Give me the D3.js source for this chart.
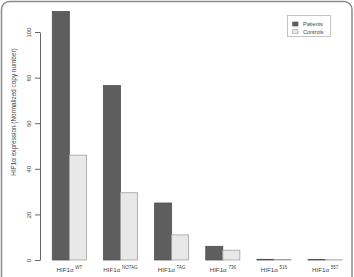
<!DOCTYPE html>
<html>
<head>
<meta charset="utf-8">
<script src="https://cdn.jsdelivr.net/npm/d3@7"></script>
<style>
  body { margin: 0; background: #fff; }
  text { font-family: "Liberation Sans", Arial, sans-serif; fill: #444; }
</style>
</head>
<body>
<div id="chart"></div>
<script>
// data
var categories = ["WT", "NOTAG", "TAG", "736", "516", "557"];
var series = ["Patients", "Controls"];
var patients = [109, 76.5, 25, 6, 0.3, 0.2];
var controls = [46, 29.5, 11, 4.3, 0.2, 0.1];
var yTicks = [0, 20, 40, 60, 80, 100];

var colors = { Patients: "#5e5e5e", Controls: "#e8e8e8" };
var strokes = { Patients: "#505050", Controls: "#a0a0a0" };

var W = 354, H = 277;
var svg = d3.select("#chart").append("svg")
    .attr("width", W)
    .attr("height", H);

// outer frame
svg.append("rect")
    .attr("x", 1.5).attr("y", 1.5)
    .attr("width", 350.5).attr("height", 320)
    .attr("rx", 8)
    .attr("fill", "none")
    .attr("stroke", "#8a8a8a")
    .attr("stroke-width", 1.5);

// scales
var y = d3.scaleLinear().domain([0, 100]).range([260, 32]);
var x0 = d3.scaleBand().domain(categories).range([52.3, 342.15])
    .paddingInner(1 / 3).paddingOuter(0);
var x1 = d3.scaleBand().domain(series).range([0, x0.bandwidth()]);

var rows = categories.map(function(c, i) {
  return { cat: c, vals: [ { s: "Patients", v: patients[i] }, { s: "Controls", v: controls[i] } ] };
});

// bars
var g = svg.selectAll("g.grp")
  .data(rows)
  .enter().append("g")
    .attr("class", "grp")
    .attr("transform", function(d) { return "translate(" + x0(d.cat) + ",0)"; });

g.selectAll("rect")
  .data(function(d) { return d.vals; })
  .enter().append("rect")
    .attr("x", function(d) { return x1(d.s); })
    .attr("y", function(d) { return y(d.v); })
    .attr("width", x1.bandwidth())
    .attr("height", function(d) { return y(0) - y(d.v); })
    .attr("fill", function(d) { return colors[d.s]; })
    .attr("stroke", function(d) { return strokes[d.s]; })
    .attr("stroke-width", 0.8);

// y axis
var ax = svg.append("g")
    .attr("transform", "translate(40,0)")
    .call(d3.axisLeft(y).tickValues(yTicks).tickSize(5).tickSizeOuter(0));
ax.select(".domain").attr("stroke", "#666");
ax.selectAll(".tick line").attr("stroke", "#666");
ax.selectAll(".tick text")
    .attr("x", 0).attr("y", -11)
    .attr("dy", "0.35em")
    .attr("text-anchor", "middle")
    .attr("transform", "rotate(-90)")
    .style("font-size", "6px")
    .style("fill", "#444")
    .style("font-family", "Liberation Sans, Arial, sans-serif");

// y title
svg.append("text")
    .attr("transform", "translate(14,112) rotate(-90)")
    .attr("text-anchor", "middle")
    .attr("dy", "0.35em")
    .style("font-size", "6.4px")
    .text("HIF1α expression (Normalized copy number)");

// x labels
var lab = svg.selectAll("text.xl")
  .data(categories)
  .enter().append("text")
    .attr("class", "xl")
    .attr("x", function(d) { return x0(d) + x0.bandwidth() / 2; })
    .attr("y", 272)
    .attr("text-anchor", "middle")
    .style("fill", "#444")
    .style("font-size", "6.2px");
lab.append("tspan").text("HIF1α ");
lab.append("tspan")
    .attr("dy", -3)
    .style("font-size", "4.5px")
    .text(function(d) { return d; });

// legend
var leg = svg.append("g");
leg.append("rect")
    .attr("x", 287.5).attr("y", 15.5)
    .attr("width", 43).attr("height", 21)
    .attr("fill", "#fff")
    .attr("stroke", "#b5b5b5")
    .attr("stroke-width", 0.8);
var li = leg.selectAll("g.li")
  .data(series)
  .enter().append("g")
    .attr("class", "li")
    .attr("transform", function(d, i) { return "translate(0," + (24 + i * 7.7) + ")"; });
li.append("rect")
    .attr("x", 292.7).attr("y", -2)
    .attr("width", 5.3).attr("height", 4)
    .attr("fill", function(d) { return colors[d]; })
    .attr("stroke", function(d) { return strokes[d]; })
    .attr("stroke-width", 0.6);
li.append("text")
    .attr("x", 303).attr("y", 0)
    .attr("dy", "0.35em")
    .style("font-size", "5.5px")
    .text(function(d) { return d; });
</script>
</body>
</html>
